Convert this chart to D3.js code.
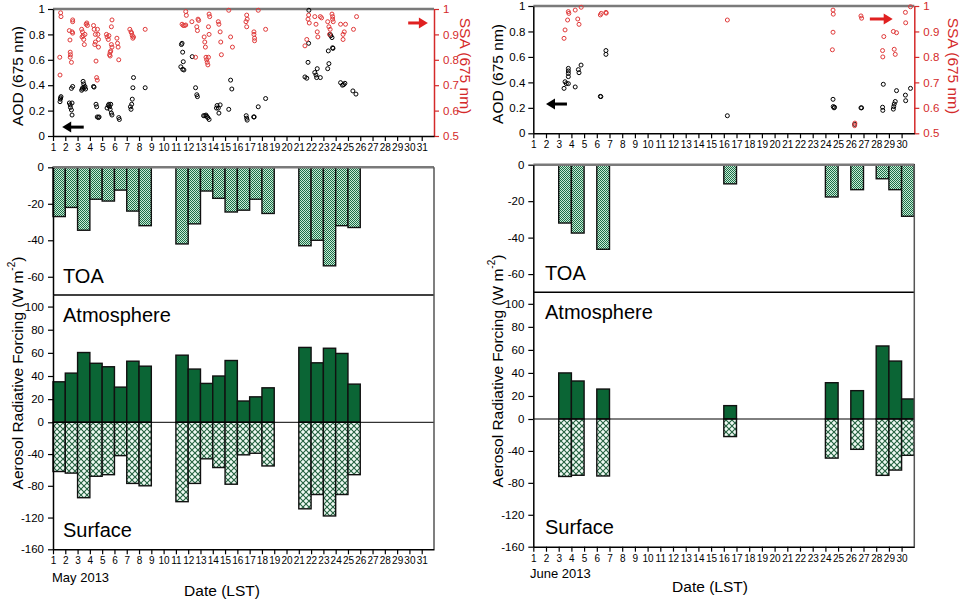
<!DOCTYPE html>
<html><head><meta charset="utf-8">
<script src="https://cdn.jsdelivr.net/npm/d3@7"></script>
<style>body{margin:0;background:#fff} svg text{font-family:Arial,"Liberation Sans",sans-serif}</style>
</head><body><svg id="c" width="968" height="612"></svg>
<script>
// ---------- DATA ----------
const aodTicks = [0, 0.2, 0.4, 0.6, 0.8, 1];
const ssaTicks = [0.5, 0.6, 0.7, 0.8, 0.9, 1];
const toaTicks = [0, -20, -40, -60];
const atmTicks = [0, 20, 40, 60, 80, 100];
const sfcTicks = [-40, -80, -120, -160];

const mayDays = [1,2,3,4,5,6,7,8,11,12,13,14,15,16,17,18,21,22,23,24,25];
const mayTOA = [-27,-22,-34.5,-17.5,-18.5,-12.5,-24,-32,-42,-31,-13,-17,-24.5,-23.5,-17.5,-25.3,-43,-40,-54,-32,-33];
const mayATM = [35,42.5,60.3,51,48,30.4,52.8,48.5,58,46,33.6,40,53.4,18.4,22,29.8,64.7,51.4,64,59.5,33];
const maySFC = [-62,-64,-95,-68,-66,-42,-77,-80,-100,-77,-46,-57,-78,-41,-39,-55,-109,-91,-118,-91,-66];

const juneDays = [3,4,6,16,24,26,28,29,30];
const juneTOA = [-32,-37.5,-46.4,-10.5,-17.7,-13.7,-7.7,-13.7,-28.3];
const juneATM = [40,33,26,11.6,31.5,24.6,63.4,50.3,17.4];
const juneSFC = [-72,-70.5,-71.4,-22,-49,-38,-70.6,-64,-45.5];

const mayAOD = [[1.57,0.27],[1.6,0.29],[1.62,0.30],[1.65,0.31],
[2.33,0.26],[2.4,0.245],[2.42,0.225],[2.5,0.205],[2.55,0.165],[2.55,0.26],
[2.5,0.375],[2.6,0.39],[3.33,0.36],[3.38,0.37],[3.42,0.38],
[3.45,0.43],[3.5,0.41],[3.6,0.39],[3.65,0.37],[3.55,0.38],
[4.3,0.39],[4.34,0.385],[4.5,0.25],[4.55,0.23],[4.6,0.15],[4.7,0.145],[4.75,0.15],
[5.4,0.22],[5.5,0.24],[5.55,0.25],[5.6,0.23],[5.65,0.21],[5.7,0.25],[5.75,0.18],[5.8,0.165],
[6.35,0.145],[6.4,0.13],[7.3,0.23],[7.35,0.21],[7.4,0.25],[7.45,0.29],[7.5,0.38],[7.55,0.46],
[8.5,0.38],[11.4,0.545],[11.45,0.72],[11.5,0.73],[11.55,0.66],[11.6,0.585],[11.55,0.525],[11.65,0.52],
[12.33,0.625],[12.6,0.38],[12.7,0.325],[12.75,0.31],
[13.25,0.16],[13.35,0.16],[13.45,0.165],[13.5,0.155],[13.6,0.145],[13.7,0.13],
[14.3,0.22],[14.35,0.24],[14.45,0.22],[14.5,0.18],[14.6,0.245],
[15.3,0.21],[15.45,0.44],[15.55,0.37],[16.72,0.16],[16.76,0.14],[16.8,0.125],
[17.33,0.15],[17.37,0.15],[17.7,0.23],[18.3,0.295],
[21.5,0.465],[21.65,0.455],[21.75,0.58],[21.8,0.73],[21.82,0.99],
[22.3,0.5],[22.4,0.48],[22.45,0.46],[22.5,0.53],[22.75,0.46],
[23.35,0.53],[23.45,0.57],[23.4,0.67],[23.55,0.8],[23.6,0.79],[23.7,0.775],[23.75,0.695],[23.78,0.69],
[24.4,0.42],[24.55,0.4],[24.65,0.405],[24.75,0.415],[25.4,0.355],[25.65,0.33]];

const maySSA = [[1.57,0.74],[1.55,0.81],[1.62,0.985],[1.65,0.97],
[2.33,0.915],[2.38,0.878],[2.4,0.83],[2.42,0.82],[2.4,0.81],[2.5,0.79],[2.55,0.91],[2.6,0.905],[2.6,0.957],[2.6,0.95],
[3.33,0.92],[3.4,0.91],[3.45,0.895],[3.36,0.89],[3.5,0.88],[3.6,0.9],[3.55,0.86],[3.7,0.94],[3.75,0.945],[3.8,0.935],
[4.3,0.935],[4.35,0.92],[4.45,0.9],[4.4,0.86],[4.45,0.87],[4.5,0.795],[4.55,0.73],[4.6,0.72],
[4.65,0.9],[4.7,0.88],[4.62,0.92],[4.7,0.85],
[5.35,0.9],[5.4,0.89],[5.5,0.88],[5.55,0.895],[5.65,0.83],[5.6,0.82],[5.65,0.815],[5.7,0.835],[5.75,0.86],[5.8,0.85],[5.8,0.957],[5.75,0.93],
[6.2,0.885],[6.25,0.865],[6.3,0.85],[6.35,0.8],
[7.25,0.92],[7.35,0.91],[7.4,0.905],[7.45,0.895],[7.5,0.885],[7.55,0.89],[8.5,0.92],
[11.5,0.94],[11.6,0.935],[11.7,0.935],[11.8,0.937],[11.8,0.99],[11.85,0.975],
[12.3,0.95],[12.7,0.93],[12.75,0.915],[12.8,0.96],[12.85,0.955],[12.6,0.81],
[13.3,0.89],[13.35,0.87],[13.4,0.85],[13.45,0.81],[13.5,0.8],[13.55,0.79],[13.6,0.78],[13.65,0.81],
[13.7,0.98],[13.75,0.97],[13.65,0.93],[13.7,0.9],
[14.45,0.95],[14.5,0.94],[14.6,0.91],[14.65,0.87],[14.7,0.82],
[15.3,0.995],[15.45,0.89],[15.6,0.85],
[16.76,0.976],[16.8,0.96],[16.76,0.93],[16.7,0.95],
[17.35,0.91],[17.35,0.9],[17.4,0.885],[17.4,0.875],[17.7,0.995],[18.3,0.92],
[21.5,0.855],[21.65,0.88],[21.8,0.976],[21.75,0.96],[21.85,0.945],
[22.3,0.97],[22.4,0.94],[22.5,0.91],[22.55,0.89],[22.75,0.97],[22.85,0.965],
[23.35,0.95],[23.45,0.93],[23.55,0.92],[23.5,0.9],[23.7,0.98],[23.75,0.97],[23.75,0.96],[23.8,0.95],
[24.4,0.94],[24.8,0.94],[24.6,0.9],[24.6,0.88],[24.7,0.91],[25.45,0.92],[25.7,0.97]];

const juneAOD = [[3.42,0.353],[3.5,0.405],[3.6,0.39],[3.76,0.49],[3.76,0.51],[3.76,0.47],[3.76,0.445],[3.76,0.39],
[4.3,0.364],[4.55,0.5],[4.6,0.476],[4.76,0.536],[6.28,0.29],[6.32,0.288],[6.72,0.65],[6.72,0.62],
[16.28,0.138],[24.6,0.267],[24.62,0.21],[24.68,0.2],[24.72,0.205],[26.3,0.07],
[26.8,0.2],[26.85,0.2],[28.5,0.205],[28.52,0.18],[28.56,0.385],
[29.35,0.19],[29.38,0.21],[29.42,0.23],[29.5,0.25],[29.6,0.335],[30.3,0.3],[30.32,0.256],[30.7,0.353]];

const juneSSA = [[3.42,0.873],[3.5,0.906],[3.7,0.945],[3.76,0.978],[3.8,0.971],
[4.3,0.984],[4.5,0.949],[4.6,0.928],[4.77,0.995],[6.28,0.965],[6.35,0.971],[6.72,0.975],[6.74,0.972],
[16.28,0.945],[24.6,0.984],[24.62,0.968],[24.6,0.897],[24.55,0.828],[26.3,0.53],[26.32,0.54],
[26.8,0.961],[26.85,0.952],[28.5,0.825],[28.52,0.8],[28.6,0.88],
[29.35,0.9],[29.6,0.895],[29.42,0.83],[29.5,0.81],[30.3,0.975],[30.32,0.934],[30.7,0.997]];

// ---------- DRAWING ----------
const RED = '#d42a2a';
const svg = d3.select('#c');
const defs = svg.append('defs');
const chk = defs.append('pattern').attr('id','chk').attr('width',2).attr('height',2).attr('patternUnits','userSpaceOnUse');
chk.append('rect').attr('width',2).attr('height',2).attr('fill','#c8ecd6');
chk.append('rect').attr('width',1).attr('height',1).attr('fill','#1d6e48');
chk.append('rect').attr('x',1).attr('y',1).attr('width',1).attr('height',1).attr('fill','#1d6e48');
const xh = defs.append('pattern').attr('id','xh').attr('width',6).attr('height',6).attr('patternUnits','userSpaceOnUse');
xh.append('rect').attr('width',6).attr('height',6).attr('fill','#effaf3');
xh.append('path').attr('d','M-1,-1L7,7M7,-1L-1,7').attr('stroke','#23613f').attr('stroke-width',1.1);

function styleAxis(sel, size, color) {
  sel.attr('font-size', size).attr('font-family', 'Arial, "Liberation Sans", sans-serif');
  sel.selectAll('path.domain').attr('stroke', color).attr('stroke-width', 1.5);
  sel.selectAll('.tick line').attr('stroke', color).attr('stroke-width', 1.2);
  sel.selectAll('.tick text').attr('fill', color);
}

function arrow(g, xa, xb, y, color) {
  const dir = Math.sign(xb - xa), hl = 9, hw = 5.5;
  g.append('line').attr('x1', xa).attr('x2', xb - dir * hl * 0.7).attr('y1', y).attr('y2', y)
    .attr('stroke', color).attr('stroke-width', 3);
  g.append('path').attr('d', `M${xb},${y}L${xb - dir * hl},${y - hw}L${xb - dir * hl},${y + hw}Z`).attr('fill', color);
}

function drawChart(o, days, toa, atm, sfc, aod, ssa) {
  const g = svg.append('g');
  const x = d3.scaleLinear().domain([1, o.xMax]).range([o.x0, o.x1]);
  const yAod = d3.scaleLinear().domain([0, 1]).range([o.tBot, o.tTop]);
  const ySsa = d3.scaleLinear().domain([0.5, 1]).range([o.tBot, o.tTop]);
  const yToa = d3.scaleLinear().domain([-70, 0]).range([o.sep, o.toa0]);
  const yAtm = d3.scaleLinear().domain([0, 110]).range([o.zero, o.sep]);
  const ySfc = d3.scaleLinear().domain([-160, 0]).range([o.bot, o.zero]);
  const dayTicks = d3.range(1, o.nTicks + 1);

  // ---- top panel ----
  g.append('line').attr('x1', o.x0).attr('x2', o.x1).attr('y1', o.tTop).attr('y2', o.tTop)
    .attr('stroke', '#7a7a7a').attr('stroke-width', 2.5);
  g.append('g').selectAll('circle').data(aod).join('circle')
    .attr('cx', d => x(d[0])).attr('cy', d => yAod(d[1])).attr('r', 2)
    .attr('fill', 'none').attr('stroke', '#000').attr('stroke-width', 1);
  g.append('g').selectAll('circle').data(ssa).join('circle')
    .attr('cx', d => x(d[0])).attr('cy', d => ySsa(d[1])).attr('r', 2)
    .attr('fill', 'none').attr('stroke', '#e03a3a').attr('stroke-width', 1);

  const ax1 = g.append('g').attr('transform', `translate(${o.x0},0)`)
    .call(d3.axisLeft(yAod).tickValues(aodTicks).tickFormat(d => String(d)).tickSize(5).tickSizeOuter(0).tickPadding(3));
  styleAxis(ax1, 11.5, '#000');
  const ax2 = g.append('g').attr('transform', `translate(${o.x1},0)`)
    .call(d3.axisRight(ySsa).tickValues(ssaTicks).tickFormat(d => String(d)).tickSize(5).tickSizeOuter(0).tickPadding(4));
  styleAxis(ax2, 11.5, RED);
  const ax3 = g.append('g').attr('transform', `translate(0,${o.tBot})`)
    .call(d3.axisBottom(x).tickValues(dayTicks).tickFormat(d => String(d)).tickSize(5).tickSizeOuter(0).tickPadding(3));
  styleAxis(ax3, 10, '#000');

  g.append('text').attr('transform', `translate(${o.aodLX},${o.aodLY}) rotate(-90)`)
    .attr('text-anchor', 'middle').attr('dominant-baseline', 'central').attr('font-size', 15.5).text('AOD (675 nm)');
  g.append('text').attr('transform', `translate(${o.ssaLX},${o.ssaLY}) rotate(90)`)
    .attr('text-anchor', 'middle').attr('dominant-baseline', 'central').attr('font-size', 15.5).attr('fill', RED).text('SSA (675 nm)');

  arrow(g, x(o.bArrow[0]), x(o.bArrow[1]), yAod(o.bArrow[2]), '#000');
  arrow(g, x(o.rArrow[0]), x(o.rArrow[1]), ySsa(o.rArrow[2]), '#e02020');

  // ---- bottom panel ----
  const rows = days.map((d, i) => ({ d, toa: toa[i], atm: atm[i], sfc: sfc[i] }));
  const bar = (key, sc, fill) => g.append('g').selectAll('rect').data(rows).join('rect')
    .attr('x', r => x(r.d)).attr('width', r => x(r.d + 1) - x(r.d))
    .attr('y', r => Math.min(sc(r[key]), sc(0))).attr('height', r => Math.abs(sc(r[key]) - sc(0)))
    .attr('fill', fill).attr('stroke', '#111').attr('stroke-width', 1.4);
  bar('toa', yToa, 'url(#chk)');
  bar('atm', yAtm, '#0b6535');
  bar('sfc', ySfc, 'url(#xh)');

  g.append('line').attr('x1', o.x0).attr('x2', o.x1).attr('y1', yAtm(0)).attr('y2', yAtm(0)).attr('stroke', '#000').attr('stroke-width', 1);
  g.append('line').attr('x1', o.x0).attr('x2', o.x1).attr('y1', yToa(-70)).attr('y2', yToa(-70)).attr('stroke', '#000').attr('stroke-width', 1.6);
  g.append('line').attr('x1', o.x0).attr('x2', o.x1).attr('y1', yToa(0)).attr('y2', yToa(0)).attr('stroke', '#7a7a7a').attr('stroke-width', 2.5);
  g.append('line').attr('x1', o.x1).attr('x2', o.x1).attr('y1', yToa(0)).attr('y2', ySfc(-160)).attr('stroke', '#555').attr('stroke-width', 1.5);

  const b1 = g.append('g').attr('transform', `translate(${o.x0},0)`)
    .call(d3.axisLeft(yToa).tickValues(toaTicks).tickFormat(d => String(d)).tickSize(5).tickSizeOuter(0).tickPadding(4));
  styleAxis(b1, 11.5, '#000');
  const b2 = g.append('g').attr('transform', `translate(${o.x0},0)`)
    .call(d3.axisLeft(yAtm).tickValues(atmTicks).tickFormat(d => String(d)).tickSize(5).tickSizeOuter(0).tickPadding(4));
  styleAxis(b2, 11.5, '#000');
  const b3 = g.append('g').attr('transform', `translate(${o.x0},0)`)
    .call(d3.axisLeft(ySfc).tickValues(sfcTicks).tickFormat(d => String(d)).tickSize(5).tickSizeOuter(0).tickPadding(4));
  styleAxis(b3, 11.5, '#000');
  const b4 = g.append('g').attr('transform', `translate(0,${ySfc(-160)})`)
    .call(d3.axisBottom(x).tickValues(dayTicks).tickFormat(d => String(d)).tickSize(5).tickSizeOuter(0).tickPadding(3));
  styleAxis(b4, 10, '#000');

  g.append('text').attr('x', o.pLX).attr('y', yToa(-63.5)).attr('font-size', 20).text('TOA');
  g.append('text').attr('x', o.pLX).attr('y', yAtm(87)).attr('font-size', 20).text('Atmosphere');
  g.append('text').attr('x', o.pLX).attr('y', ySfc(-144)).attr('font-size', 20).text('Surface');

  const t = g.append('text').attr('transform', `translate(${o.arfX},${o.arfY}) rotate(-90)`)
    .attr('text-anchor', 'middle').attr('dominant-baseline', 'central').attr('font-size', 15.5);
  t.append('tspan').text('Aerosol Radiative Forcing (W m');
  t.append('tspan').attr('font-size', 10).attr('dy', -6).text('-2');
  t.append('tspan').attr('dy', 6).text(')');

  g.append('text').attr('x', o.monX).attr('y', o.monY).attr('font-size', 13).text(o.month);
  g.append('text').attr('x', o.dateX).attr('y', o.dateY).attr('text-anchor', 'middle').attr('font-size', 15.5).text('Date (LST)');
}

drawChart({x0:53, x1:434, xMax:32, nTicks:31, tTop:9, tBot:136, toa0:167.3, sep:295, zero:422.3, bot:549.3,
  aodLX:17, aodLY:76, ssaLX:465, ssaLY:66, arfX:17, arfY:373, pLX:63,
  monX:52, monY:582, month:'May 2013', dateX:222, dateY:596,
  bArrow:[3.5, 1.75, 0.07], rArrow:[29.9, 31.5, 0.945]},
  mayDays, mayTOA, mayATM, maySFC, mayAOD, maySSA);

drawChart({x0:533.3, x1:914.3, xMax:31, nTicks:30, tTop:6, tBot:133.3, toa0:164.7, sep:292.3, zero:419, bot:546.7,
  aodLX:497, aodLY:74, ssaLX:953, ssaLY:66, arfX:497, arfY:371, pLX:545,
  monX:530, monY:578, month:'June 2013', dateX:710, dateY:592,
  bArrow:[3.65, 2.0, 0.23], rArrow:[27.5, 29.3, 0.949]},
  juneDays, juneTOA, juneATM, juneSFC, juneAOD, juneSSA);
</script>
</body></html>
